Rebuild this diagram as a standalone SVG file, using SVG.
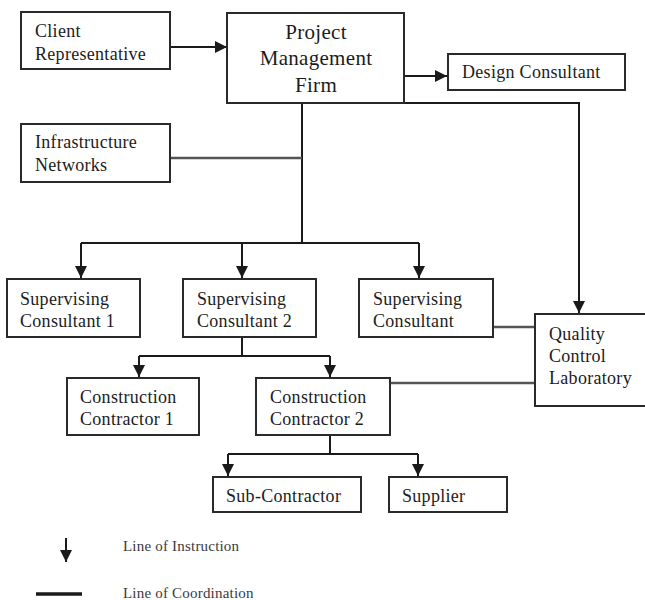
<svg xmlns="http://www.w3.org/2000/svg" width="645" height="600" viewBox="0 0 645 600">
  <style>
    .box { fill: #ffffff; stroke: #2a2a2a; stroke-width: 2; }
    .lbl { font-family: "Liberation Serif", "Times New Roman", serif; font-size: 18px; letter-spacing: 0.3px; fill: #1c1c1c; }
    .big { font-size: 21px; letter-spacing: 0.3px; }
    .ins { fill: none; stroke: #1a1a1a; stroke-width: 2; }
    .coord { fill: none; stroke: #555555; stroke-width: 2.5; }
    .leg { font-family: "Liberation Serif", "Times New Roman", serif; font-size: 15px; letter-spacing: 0.2px; fill: #3a3a3a; }
  </style>
  <defs>
    <marker id="arrow" viewBox="0 0 10 10" refX="10" refY="5" markerWidth="6" markerHeight="6" orient="auto" markerUnits="strokeWidth">
      <path d="M0,0 L10,5 L0,10 Z" fill="#1a1a1a"/>
    </marker>
  </defs>
  <rect width="645" height="600" fill="#ffffff"/>

  <!-- connectors -->
  <g id="connectors">
    <!-- instruction lines -->
    <path class="ins" d="M170,47 H227" marker-end="url(#arrow)"/>
    <path class="ins" d="M404,76 H447" marker-end="url(#arrow)"/>
    <path class="ins" d="M302,103 V243"/>
    <path class="ins" d="M81,243 H419"/>
    <path class="ins" d="M81,243 V278" marker-end="url(#arrow)"/>
    <path class="ins" d="M242,243 V278" marker-end="url(#arrow)"/>
    <path class="ins" d="M419,243 V278" marker-end="url(#arrow)"/>
    <path class="ins" d="M404,103 H579 V313" marker-end="url(#arrow)"/>
    <path class="ins" d="M242,337 V356"/>
    <path class="ins" d="M139,356 H330"/>
    <path class="ins" d="M139,356 V377" marker-end="url(#arrow)"/>
    <path class="ins" d="M330,356 V377" marker-end="url(#arrow)"/>
    <path class="ins" d="M330,435 V454"/>
    <path class="ins" d="M228,454 H418"/>
    <path class="ins" d="M228,454 V476" marker-end="url(#arrow)"/>
    <path class="ins" d="M418,454 V476" marker-end="url(#arrow)"/>
    <!-- coordination lines -->
    <path class="coord" d="M170,158 H302"/>
    <path class="coord" d="M493,327 H535"/>
    <path class="coord" d="M390,383 H535"/>
  </g>

  <g id="client-representative">
    <rect class="box" x="21" y="12" width="149" height="57"/>
    <text class="lbl" x="35" y="37">Client</text>
    <text class="lbl" x="35" y="60">Representative</text>
  </g>

  <g id="project-management-firm">
    <rect class="box" x="227" y="13" width="177" height="90"/>
    <text class="lbl big" x="316" y="39" text-anchor="middle">Project</text>
    <text class="lbl big" x="316" y="65" text-anchor="middle">Management</text>
    <text class="lbl big" x="316" y="92" text-anchor="middle">Firm</text>
  </g>

  <g id="design-consultant">
    <rect class="box" x="448" y="54" width="177" height="36"/>
    <text class="lbl" x="462" y="78">Design Consultant</text>
  </g>

  <g id="infrastructure-networks">
    <rect class="box" x="21" y="124" width="149" height="58"/>
    <text class="lbl" x="35" y="148">Infrastructure</text>
    <text class="lbl" x="35" y="171">Networks</text>
  </g>

  <g id="supervising-consultant-1">
    <rect class="box" x="7" y="279" width="133" height="58"/>
    <text class="lbl" x="20" y="305">Supervising</text>
    <text class="lbl" x="20" y="327">Consultant 1</text>
  </g>

  <g id="supervising-consultant-2">
    <rect class="box" x="183" y="279" width="133" height="58"/>
    <text class="lbl" x="197" y="305">Supervising</text>
    <text class="lbl" x="197" y="327">Consultant 2</text>
  </g>

  <g id="supervising-consultant">
    <rect class="box" x="359" y="279" width="134" height="58"/>
    <text class="lbl" x="373" y="305">Supervising</text>
    <text class="lbl" x="373" y="327">Consultant</text>
  </g>

  <g id="quality-control-laboratory">
    <rect class="box" x="535" y="314" width="115" height="92"/>
    <text class="lbl" x="549" y="340">Quality</text>
    <text class="lbl" x="549" y="362">Control</text>
    <text class="lbl" x="549" y="384">Laboratory</text>
  </g>

  <g id="construction-contractor-1">
    <rect class="box" x="67" y="378" width="132" height="57"/>
    <text class="lbl" x="80" y="403">Construction</text>
    <text class="lbl" x="80" y="425">Contractor 1</text>
  </g>

  <g id="construction-contractor-2">
    <rect class="box" x="256" y="378" width="134" height="57"/>
    <text class="lbl" x="270" y="403">Construction</text>
    <text class="lbl" x="270" y="425">Contractor 2</text>
  </g>

  <g id="sub-contractor">
    <rect class="box" x="213" y="477" width="148" height="35"/>
    <text class="lbl" x="226" y="502">Sub-Contractor</text>
  </g>

  <g id="supplier">
    <rect class="box" x="389" y="477" width="118" height="35"/>
    <text class="lbl" x="402" y="502">Supplier</text>
  </g>

  <!-- legend -->
  <g id="legend">
    <path class="ins" d="M66,538 V562" marker-end="url(#arrow)"/>
    <text class="leg" x="123" y="551">Line of Instruction</text>
    <path d="M36,594 H82" stroke="#1a1a1a" stroke-width="3.5" fill="none"/>
    <text class="leg" x="123" y="598">Line of Coordination</text>
  </g>
</svg>
